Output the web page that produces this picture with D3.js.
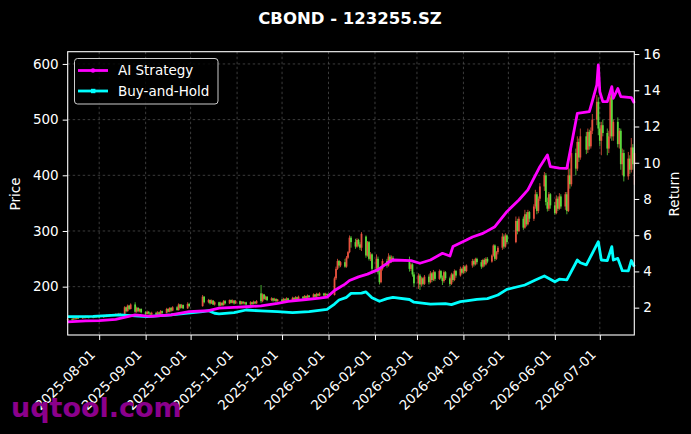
<!DOCTYPE html>
<html><head><meta charset="utf-8">
<script src="https://cdn.jsdelivr.net/npm/d3@7"></script>
<style>html,body{margin:0;padding:0;background:#000;}svg{display:block;}</style>
</head><body>
<script>
// ---------------- DATA ----------------
const title = "CBOND - 123255.SZ";
const priceTicks = [200, 300, 400, 500, 600];
const returnTicks = [2, 4, 6, 8, 10, 12, 14, 16];
const monthTicks = ["2025-08-01","2025-09-01","2025-10-01","2025-11-01","2025-12-01","2026-01-01",
  "2026-02-01","2026-03-01","2026-04-01","2026-05-01","2026-06-01","2026-07-01"];
const seriesNames = ["AI Strategy", "Buy-and-Hold"];

// weekly rows: Monday date, then Mon..Fri as "open close high low" ("-" = no trading)
const candleWeeks = [
 ["2025-07-07","-|-|-|-|141 142 144 139"],
 ["2025-07-14","142 141 144 139|141 143 145 140|143 142 145 141|142 144 146 141|144 143 146 142"],
 ["2025-07-21","143 145 147 142|145 144 147 143|144 146 148 143|146 145 148 144|145 144 147 143"],
 ["2025-07-28","144 146 148 143|146 145 148 144|145 147 149 144|147 146 149 145|146 145 148 144"],
 ["2025-08-04","145 147 149 144|147 146 149 145|146 148 150 145|148 147 150 146|147 149 151 146"],
 ["2025-08-11","149 148 151 147|148 150 152 147|150 149 152 148|149 151 153 148|151 150 153 149"],
 ["2025-08-18","150 163 165 149|163 156 164 154|156 166 168 155|166 160 167 158|160 168 170 159"],
 ["2025-08-25","168 155 172 153|155 162 164 153|162 156 163 154|156 160 161 154|160 154 161 152"],
 ["2025-09-01","154 151 156 149|151 155 157 150|155 152 156 150|152 150 154 148|150 153 155 149"],
 ["2025-09-08","153 150 155 149|150 154 156 149|154 151 155 150|151 156 158 150|156 153 157 151"],
 ["2025-09-15","153 160 162 152|160 155 161 154|155 162 163 154|162 157 163 155|157 163 165 156"],
 ["2025-09-22","163 158 165 157|158 168 170 157|168 162 169 160|162 167 169 161|167 161 168 160"],
 ["2025-09-29","161 169 172 160|169 165 171 163|-|-|-"],
 ["2025-10-06","-|-|-|165 182 185 164|182 172 183 170"],
 ["2025-10-13","172 176 178 170|176 170 177 168|170 175 177 169|175 168 176 167|168 172 174 166"],
 ["2025-10-20","172 166 173 164|166 171 173 165|171 167 172 165|167 174 176 166|174 170 176 168"],
 ["2025-10-27","170 176 177 169|176 171 177 170|171 175 177 170|175 170 176 168|170 174 176 169"],
 ["2025-11-03","174 169 175 167|169 173 174 168|173 170 174 168|170 172 173 168|172 168 173 166"],
 ["2025-11-10","168 172 174 167|172 169 173 167|169 173 175 168|173 170 174 169|170 174 176 169"],
 ["2025-11-17","188 174 203 171|174 186 188 172|186 178 187 176|178 182 184 176|182 176 183 174"],
 ["2025-11-24","176 179 181 174|179 175 180 173|175 178 180 174|178 174 179 172|174 177 178 173"],
 ["2025-12-01","177 174 178 172|174 178 180 173|178 175 179 174|175 179 181 174|179 176 180 175"],
 ["2025-12-08","176 180 182 175|180 177 181 176|177 181 183 176|181 178 182 177|178 182 184 177"],
 ["2025-12-15","182 179 183 178|179 183 185 178|183 180 184 179|180 184 186 179|184 181 185 180"],
 ["2025-12-22","181 186 188 180|186 182 187 181|182 187 189 181|187 184 188 182|184 188 190 183"],
 ["2025-12-29","188 184 189 182|184 187 189 183|187 185 188 183|-|-"],
 ["2026-01-05","185 215 218 184|215 232 236 212|232 246 250 230|246 238 248 234|238 244 246 235"],
 ["2026-01-12","244 236 250 234|236 252 255 234|252 262 264 250|262 288 292 260|288 280 291 270"],
 ["2026-01-19","280 272 286 268|272 284 287 270|284 276 286 272|276 270 280 266|270 295 298 264"],
 ["2026-01-26","290 256 292 252|256 280 282 254|280 250 282 247|250 258 262 246|258 232 260 224"],
 ["2026-02-02","232 250 258 226|250 226 254 222|226 208 230 204|208 232 236 206|232 246 250 229"],
 ["2026-02-09","246 238 250 234|238 254 260 236|254 246 257 242|246 252 256 243|252 248 255 244"],
 ["2026-02-23","-|248 232 254 227|232 240 243 228|240 222 242 218|222 206 226 200"],
 ["2026-03-02","206 220 224 196|220 204 223 194|204 215 218 200|215 205 217 202|205 218 221 203"],
 ["2026-03-09","218 208 222 204|208 224 228 206|224 212 226 208|212 226 230 210|226 214 228 210"],
 ["2026-03-16","214 228 231 212|228 216 230 213|216 210 220 203|210 226 229 207|226 215 228 212"],
 ["2026-03-23","215 205 218 201|205 222 225 203|222 212 224 208|212 228 231 210|228 220 230 216"],
 ["2026-03-30","220 232 236 218|232 225 234 222|225 236 239 223|236 228 238 224|228 238 240 226"],
 ["2026-04-06","-|238 246 250 234|246 240 249 236|240 250 252 238|250 244 252 240"],
 ["2026-04-13","244 236 248 232|236 248 250 234|248 240 251 236|240 250 253 238|250 245 253 242"],
 ["2026-04-20","245 256 258 243|256 274 276 254|274 250 276 246|250 262 264 248|262 270 273 258"],
 ["2026-04-27","270 290 296 266|290 272 294 268|272 292 296 270|292 280 294 276|-"],
 ["2026-05-04","-|-|280 318 326 278|318 300 322 294|300 322 326 298"],
 ["2026-05-11","322 306 326 302|306 330 338 304|330 312 334 308|312 334 338 310|334 322 336 316"],
 ["2026-05-18","322 344 348 318|344 366 374 340|366 336 370 330|336 358 362 332|358 380 386 354"],
 ["2026-05-25","380 400 406 372|400 352 404 346|352 340 360 335|340 366 370 336|366 346 368 340"],
 ["2026-06-01","346 332 352 329|332 358 364 330|358 340 362 336|340 362 368 338|362 344 366 340"],
 ["2026-06-08","344 366 370 338|366 336 370 330|336 400 419 334|400 384 412 376|384 440 457 380"],
 ["2026-06-15","440 412 448 400|412 460 470 408|460 432 466 424|432 470 484 428|-"],
 ["2026-06-22","470 446 478 438|446 478 484 440|478 452 482 446|452 480 486 448|480 500 510 474"],
 ["2026-06-29","500 532 544 490|532 484 540 472|484 462 496 452|462 490 496 436|490 476 500 470"],
 ["2026-07-06","476 448 484 436|448 470 480 440|470 540 548 466|548 470 557 462|470 496 500 462"],
 ["2026-07-13","496 456 504 450|456 480 485 448|480 420 484 410|420 440 448 400|440 398 446 389"],
 ["2026-07-20","398 430 442 392|430 410 436 402|410 450 467 405|450 420 456 410|420 440 445 383"]
];

const aiStrategy = [
 ["2025-07-11",1.22],["2025-07-23",1.27],["2025-08-01",1.28],["2025-08-12",1.35],["2025-08-20",1.5],
 ["2025-08-25",1.6],["2025-09-04",1.52],["2025-09-18",1.6],["2025-09-30",1.78],["2025-10-13",1.83],
 ["2025-10-20",1.97],["2025-10-30",2.02],["2025-11-07",2.05],["2025-11-17",2.1],["2025-11-28",2.24],
 ["2025-12-05",2.35],["2025-12-17",2.45],["2025-12-26",2.52],["2025-12-31",2.58],["2026-01-05",2.95],
 ["2026-01-08",3.1],["2026-01-12",3.3],["2026-01-15",3.5],["2026-01-21",3.7],["2026-01-27",3.85],
 ["2026-02-03",4.1],["2026-02-10",4.5],["2026-02-13",4.63],["2026-02-25",4.6],["2026-03-03",4.45],
 ["2026-03-10",4.63],["2026-03-18",5.0],["2026-03-23",4.85],["2026-03-25",5.37],["2026-04-03",5.73],
 ["2026-04-07",5.9],["2026-04-14",6.1],["2026-04-22",6.47],["2026-04-30",7.3],["2026-05-08",7.94],
 ["2026-05-14",8.5],["2026-05-22",9.78],["2026-05-27",10.43],["2026-05-29",9.78],["2026-06-04",9.7],
 ["2026-06-09",9.69],["2026-06-12",10.98],["2026-06-16",12.73],["2026-06-24",12.82],["2026-06-26",13.4],
 ["2026-06-29",14.3],["2026-06-30",15.4],["2026-07-01",13.92],["2026-07-03",13.37],["2026-07-06",13.37],
 ["2026-07-09",14.2],["2026-07-10",13.56],["2026-07-13",14.1],["2026-07-15",13.65],["2026-07-22",13.6],
 ["2026-07-24",13.3]
];

const buyAndHold = [
 ["2025-07-11",1.5],["2025-07-28",1.52],["2025-08-15",1.6],["2025-08-25",1.55],["2025-09-02",1.5],
 ["2025-09-18",1.6],["2025-10-09",1.78],["2025-10-13",1.83],["2025-10-17",1.69],["2025-10-20",1.66],
 ["2025-10-30",1.72],["2025-11-07",1.87],["2025-11-17",1.82],["2025-11-28",1.78],["2025-12-08",1.72],
 ["2025-12-19",1.78],["2025-12-31",1.9],["2026-01-05",2.2],["2026-01-08",2.42],["2026-01-13",2.57],
 ["2026-01-16",2.79],["2026-01-23",2.8],["2026-01-26",2.87],["2026-01-30",2.55],["2026-02-04",2.35],
 ["2026-02-09",2.5],["2026-02-13",2.57],["2026-02-24",2.45],["2026-02-27",2.3],["2026-03-10",2.2],
 ["2026-03-20",2.22],["2026-03-24",2.17],["2026-03-30",2.33],["2026-04-03",2.38],["2026-04-10",2.46],
 ["2026-04-17",2.5],["2026-04-24",2.7],["2026-04-30",3.01],["2026-05-12",3.25],["2026-05-19",3.53],
 ["2026-05-25",3.75],["2026-06-01",3.43],["2026-06-04",3.57],["2026-06-09",3.53],["2026-06-16",4.63],
 ["2026-06-18",4.48],["2026-06-22",4.36],["2026-06-30",5.64],["2026-07-02",4.63],["2026-07-06",4.6],
 ["2026-07-09",5.37],["2026-07-10",4.63],["2026-07-13",4.72],["2026-07-16",4.04],["2026-07-20",4.03],
 ["2026-07-22",4.6],["2026-07-24",4.26]
];

// ---------------- RENDER ----------------
const W = 691, H = 434;
const M = {left: 67.7, right: 634.3, top: 51.7, bottom: 335};
const parse = d3.timeParse("%Y-%m-%d");

const candles = [];
candleWeeks.forEach(([mon, s]) => {
  const m = parse(mon);
  s.split("|").forEach((t, i) => {
    t = t.trim();
    if (t === "-") return;
    const [o, c, h, l] = t.split(/\s+/).map(Number);
    candles.push({date: d3.timeDay.offset(m, i), o, c, h, l});
  });
});
const ai = aiStrategy.map(([d, v]) => ({date: parse(d), v}));
const bh = buyAndHold.map(([d, v]) => ({date: parse(d), v}));

const x = d3.scaleTime().domain([parse("2025-07-11"), parse("2026-07-24")]).range([M.left, M.right]);
const yP = d3.scaleLinear().domain([113.2, 622]).range([M.bottom, M.top]);
const yR = d3.scaleLinear().domain([0.49, 16.13]).range([M.bottom, M.top]);

const svg = d3.select("body").append("svg").attr("width", W).attr("height", H)
  .style("font-family", "DejaVu Sans, sans-serif");
svg.append("rect").attr("width", W).attr("height", H).attr("fill", "#000");

// grid
const grid = svg.append("g").attr("stroke", "#7a7a7a").attr("stroke-width", 0.7)
  .attr("stroke-dasharray", "2.5,2.5").attr("opacity", 0.7);
monthTicks.forEach(t => {
  grid.append("line").attr("x1", x(parse(t))).attr("x2", x(parse(t)))
    .attr("y1", M.top).attr("y2", M.bottom);
});
priceTicks.forEach(t => {
  grid.append("line").attr("x1", M.left).attr("x2", M.right)
    .attr("y1", yP(t)).attr("y2", yP(t));
});

// candles
const up = "#ff5a45", down = "#66f044";
const cg = svg.append("g").attr("opacity", 0.9);
cg.selectAll("line.w").data(candles).join("line")
  .attr("x1", d => x(d.date)).attr("x2", d => x(d.date))
  .attr("y1", d => yP(d.h)).attr("y2", d => yP(d.l))
  .attr("stroke", d => d.c >= d.o ? up : down).attr("stroke-width", 0.8);
cg.selectAll("rect.b").data(candles).join("rect")
  .attr("x", d => x(d.date) - 0.9).attr("width", 1.8)
  .attr("y", d => yP(Math.max(d.o, d.c)))
  .attr("height", d => Math.max(0.8, Math.abs(yP(d.o) - yP(d.c))))
  .attr("fill", d => d.c >= d.o ? up : down);

// lines
const line = d3.line().x(d => x(d.date)).y(d => yR(d.v));
svg.append("path").datum(bh).attr("d", line).attr("fill", "none")
  .attr("stroke", "#00ffff").attr("stroke-width", 2.8).attr("stroke-linejoin", "round");
svg.append("path").datum(ai).attr("d", line).attr("fill", "none")
  .attr("stroke", "#ff00ff").attr("stroke-width", 2.8).attr("stroke-linejoin", "round");

// axes
const fs = "13.5px";
const axL = svg.append("g").attr("transform", `translate(${M.left},0)`)
  .call(d3.axisLeft(yP).tickValues(priceTicks).tickSize(5).tickPadding(4));
const axR = svg.append("g").attr("transform", `translate(${M.right},0)`)
  .call(d3.axisRight(yR).tickValues(returnTicks).tickSize(5).tickPadding(4));
const axB = svg.append("g").attr("transform", `translate(0,${M.bottom})`)
  .call(d3.axisBottom(x).tickValues(monthTicks.map(parse)).tickFormat(d3.timeFormat("%Y-%m-%d")).tickSize(5));
[axL, axR, axB].forEach(a => {
  a.select(".domain").remove();
  a.selectAll(".tick line").attr("stroke", "#fff").attr("stroke-width", 1);
  a.selectAll(".tick text").attr("fill", "#fff").style("font-size", fs).style("font-family", "DejaVu Sans");
});
axB.selectAll(".tick text")
  .attr("text-anchor", "end").attr("dy", null).attr("y", null)
  .attr("transform", "translate(-3.5,20.5) rotate(-45)");

// frame
svg.append("rect").attr("x", M.left).attr("y", M.top)
  .attr("width", M.right - M.left).attr("height", M.bottom - M.top)
  .attr("fill", "none").attr("stroke", "#fff").attr("stroke-width", 1.1);

// axis labels
svg.append("text").attr("transform", "translate(20,194) rotate(-90)")
  .attr("text-anchor", "middle").attr("fill", "#fff").style("font-size", fs).text("Price");
svg.append("text").attr("transform", "translate(679,194) rotate(-90)")
  .attr("text-anchor", "middle").attr("fill", "#fff").style("font-size", fs).text("Return");

// title
svg.append("text").attr("x", 350).attr("y", 24).attr("text-anchor", "middle")
  .attr("fill", "#fff").style("font-size", "16.5px").style("font-weight", "bold").text(title);

// legend
const lg = svg.append("g");
lg.append("rect").attr("x", 74.5).attr("y", 58.5).attr("width", 143.5).attr("height", 45.5)
  .attr("rx", 3).attr("fill", "#000").attr("fill-opacity", 0.8)
  .attr("stroke", "#cccccc").attr("stroke-width", 1);
const rows = [{n: seriesNames[0], c: "#ff00ff", y: 70.5, m: "circle"},
              {n: seriesNames[1], c: "#00ffff", y: 91, m: "square"}];
rows.forEach(r => {
  lg.append("line").attr("x1", 78).attr("x2", 108).attr("y1", r.y).attr("y2", r.y)
    .attr("stroke", r.c).attr("stroke-width", 2.8);
  if (r.m === "circle") lg.append("circle").attr("cx", 93).attr("cy", r.y).attr("r", 2.2).attr("fill", r.c);
  else lg.append("rect").attr("x", 91).attr("y", r.y - 2.2).attr("width", 4.4).attr("height", 4.4).attr("fill", r.c);
  lg.append("text").attr("x", 118).attr("y", r.y).attr("dy", "0.35em").attr("fill", "#fff")
    .style("font-size", fs).text(r.n);
});

// watermark
svg.append("text").attr("x", 11).attr("y", 417).attr("fill", "#8b008b")
  .style("font-size", "27px").style("font-weight", "bold").text("uqtool.com");
</script>
</body></html>
